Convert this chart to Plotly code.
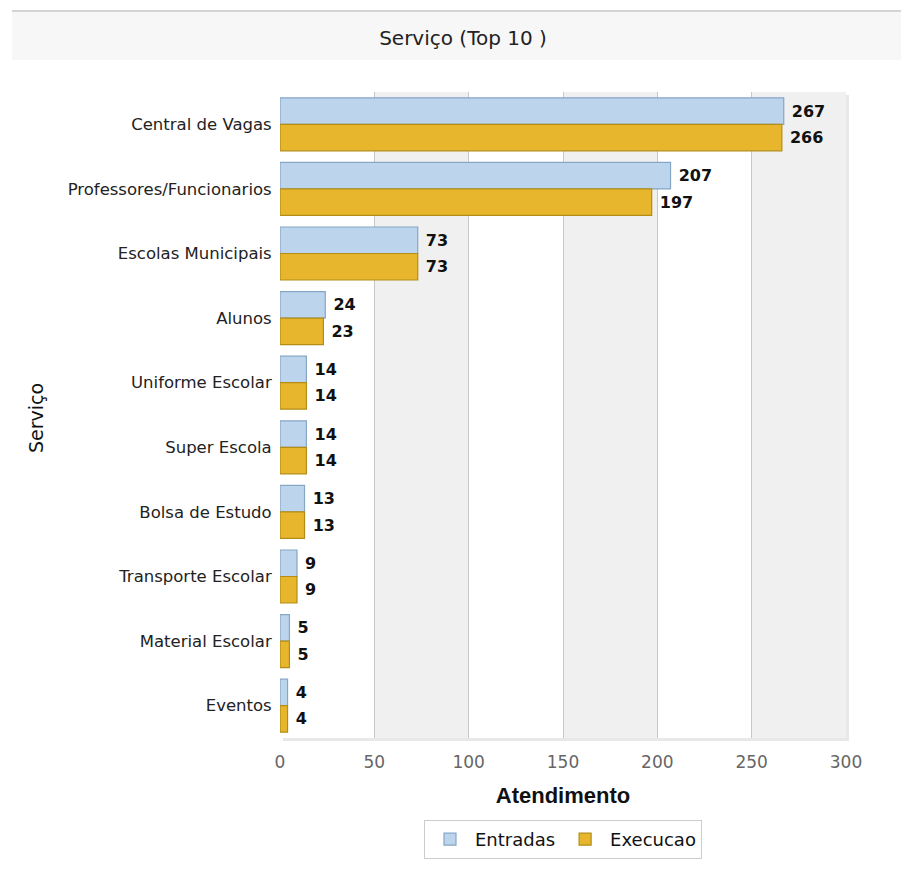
import plotly.graph_objects as go

categories = ["Central de Vagas", "Professores/Funcionarios", "Escolas Municipais", "Alunos",
              "Uniforme Escolar", "Super Escola", "Bolsa de Estudo", "Transporte Escolar",
              "Material Escolar", "Eventos"]
entradas = [267, 207, 73, 24, 14, 14, 13, 9, 5, 4]
execucao = [266, 197, 73, 23, 14, 14, 13, 9, 5, 4]
x_ticks = [0, 50, 100, 150, 200, 250, 300]

# figure geometry (page has an 8px body margin)
W, H = 901, 864
L, R, T, B = 272, 63, 84, 134
PW, PH = W - L - R, H - T - B


def px(xpage):
    return (xpage - 8 - L) / PW


def py(ypage):
    return (H - B - (ypage - 8)) / PH


fig = go.Figure()
fig.add_trace(go.Bar(
    y=categories, x=entradas, name="Entradas", orientation="h",
    marker=dict(color="#bcd5ed", line=dict(color="#86a6c6", width=1.2)),
    text=entradas, texttemplate="\u00a0<b>%{x}</b>", textposition="outside",
    textfont=dict(family="DejaVu Sans", size=16, color="#111"),
    cliponaxis=False,
))
fig.add_trace(go.Bar(
    y=categories, x=execucao, name="Execucao", orientation="h",
    marker=dict(color="#e7b62c", line=dict(color="#b38d16", width=1.2)),
    text=execucao, texttemplate="\u00a0<b>%{x}</b>", textposition="outside",
    textfont=dict(family="DejaVu Sans", size=16, color="#111"),
    cliponaxis=False,
))

shapes = []
# soft shadow of plot area
shapes.append(dict(type="rect", xref="paper", yref="paper", x0=px(283), x1=px(849), y0=py(741), y1=py(95),
                   fillcolor="#e8e8e8", line=dict(width=0), layer="below"))
shapes.append(dict(type="rect", xref="paper", yref="paper", x0=0, x1=1, y0=0, y1=1,
                   fillcolor="#ffffff", line=dict(width=0), layer="below"))
# alternating bands
for i in range(1, len(x_ticks) - 1, 2):
    shapes.append(dict(type="rect", xref="x", yref="paper", x0=x_ticks[i], x1=x_ticks[i + 1],
                       y0=0, y1=1, fillcolor="#f0f0f0", line=dict(width=0), layer="below"))
# title band
shapes.append(dict(type="rect", xref="paper", yref="paper", x0=px(12), x1=px(909),
                   y0=py(60), y1=py(11), fillcolor="#f7f7f7", line=dict(width=0), layer="below"))
shapes.append(dict(type="line", xref="paper", yref="paper", x0=px(12), x1=px(909),
                   y0=py(11), y1=py(11), line=dict(color="#d4d4d4", width=2)))

fig.update_layout(
    width=W, height=H,
    margin=dict(l=L, r=R, t=T, b=B),
    paper_bgcolor="white", plot_bgcolor="rgba(0,0,0,0)",
    barmode="group", bargap=0.18, bargroupgap=0.0,
    title=dict(text="Serviço (Top 10 )", x=(463 - 8) / W, xanchor="center",
               y=1 - (38 - 8) / H, yanchor="middle",
               font=dict(family="DejaVu Sans", size=20, color="#222")),
    xaxis=dict(range=[0, 300], tickvals=x_ticks, showgrid=True, gridcolor="#c8c8c8", gridwidth=1,
               zeroline=False, showline=False,
               tickfont=dict(family="DejaVu Sans", size=17, color="#666"),
               ticks="outside", ticklen=9, tickcolor="rgba(0,0,0,0)",
               title=dict(text="<b>Atendimento</b>", standoff=16,
                          font=dict(family="Liberation Sans, Arial", size=22, color="#111"))),
    yaxis=dict(autorange="reversed", showgrid=False, zeroline=False, showline=False,
               tickfont=dict(family="DejaVu Sans", size=16.5, color="#222"),
               ticks="outside", ticklen=4, tickcolor="rgba(0,0,0,0)"),
    legend=dict(orientation="h", x=0.5, xanchor="center", y=py(820), yanchor="top",
                bgcolor="white", bordercolor="#cccccc", borderwidth=1, itemwidth=40,
                font=dict(family="DejaVu Sans", size=18, color="#111")),
    annotations=[dict(text="Serviço", xref="paper", yref="paper", x=px(36), y=py(418),
                      xanchor="center", yanchor="middle", textangle=-90, showarrow=False,
                      font=dict(family="DejaVu Sans", size=19, color="#111"))],
    shapes=shapes,
)

fig.write_html("out.html")
